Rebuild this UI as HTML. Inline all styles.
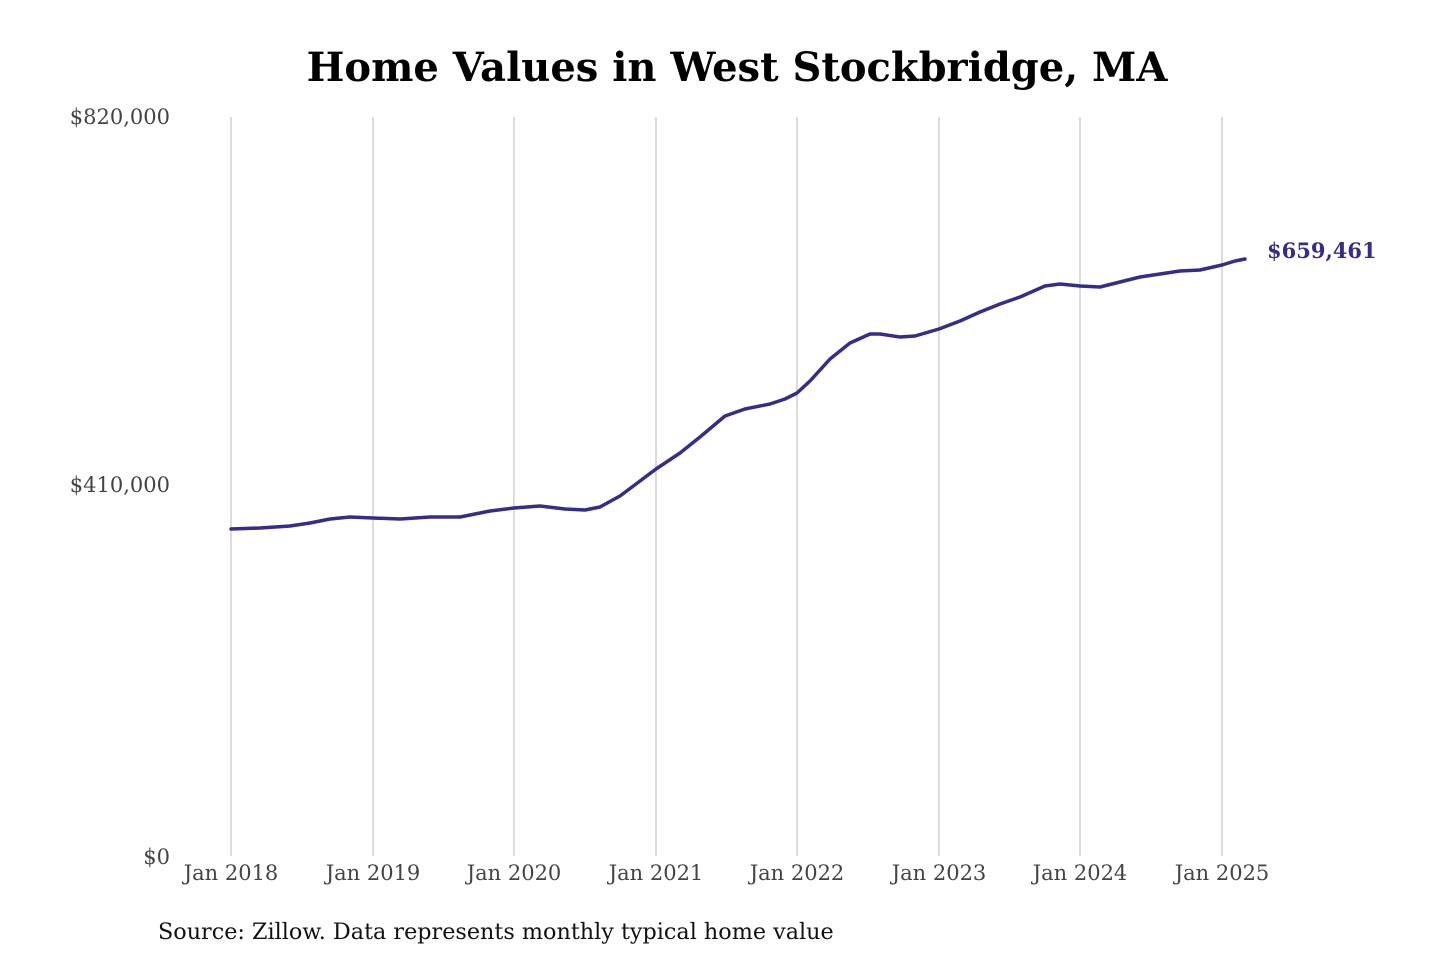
<!DOCTYPE html>
<html><head><meta charset="utf-8"><style>
html,body{margin:0;padding:0;background:#fff;}
svg{display:block;}
</style></head><body>
<svg width="1440" height="960" viewBox="0 0 1440 960" xmlns="http://www.w3.org/2000/svg">
<rect width="1440" height="960" fill="#fff"/>
<text x="737" y="81" text-anchor="middle" font-family="DejaVu Serif, Liberation Serif, serif" font-weight="bold" font-size="40" fill="#000">Home Values in West Stockbridge, MA</text>
<g stroke="#c8c8c8" stroke-width="1.3">
<line x1="231" y1="117" x2="231" y2="856"/>
<line x1="373" y1="117" x2="373" y2="856"/>
<line x1="514" y1="117" x2="514" y2="856"/>
<line x1="656" y1="117" x2="656" y2="856"/>
<line x1="797" y1="117" x2="797" y2="856"/>
<line x1="939" y1="117" x2="939" y2="856"/>
<line x1="1080" y1="117" x2="1080" y2="856"/>
<line x1="1222" y1="117" x2="1222" y2="856"/>
</g>
<g font-family="DejaVu Serif, Liberation Serif, serif" font-size="21" fill="#444">
<text x="170" y="124" text-anchor="end">$820,000</text>
<text x="170" y="492" text-anchor="end">$410,000</text>
<text x="170" y="864" text-anchor="end">$0</text>
<g text-anchor="middle">
<text x="231" y="880">Jan 2018</text>
<text x="373" y="880">Jan 2019</text>
<text x="514" y="880">Jan 2020</text>
<text x="656" y="880">Jan 2021</text>
<text x="797" y="880">Jan 2022</text>
<text x="939" y="880">Jan 2023</text>
<text x="1080" y="880">Jan 2024</text>
<text x="1222" y="880">Jan 2025</text>
</g>
</g>
<polyline fill="none" stroke="#342e86" stroke-width="3.5" stroke-linejoin="round" stroke-linecap="round" points="231,529 260,528 290,526 310,523 330,519 350,517 373,518 400,519 430,517 460,517 490,511 514,508 540,506 565,509 585,510 600,507 620,496 640,481 656,469 680,453 700,437 725,416 745,409 770,404 785,399 797,393 810,381 830,359 850,343 870,334 880,334 900,337 915,336 939,329 960,321 980,312 1000,304 1020,297 1045,286 1060,284 1080,286 1100,287 1120,282 1140,277 1160,274 1180,271 1200,270 1222,265 1235,261 1245,259"/>
<text x="1267" y="258" font-family="DejaVu Serif, Liberation Serif, serif" font-weight="bold" font-size="21" fill="#342e86">$659,461</text>
<text x="158" y="939" font-family="DejaVu Serif, Liberation Serif, serif" font-size="22.3" fill="#111">Source: Zillow. Data represents monthly typical home value</text>
</svg>
</body></html>
